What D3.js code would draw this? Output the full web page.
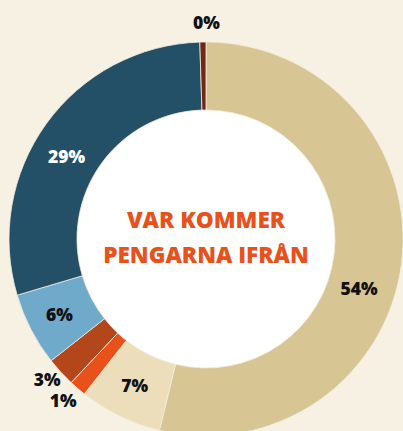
<!DOCTYPE html>
<html><head><meta charset="utf-8">
<script src="https://cdn.jsdelivr.net/npm/d3@7"></script>
<style>html,body{margin:0;padding:0;background:#f7f1e4;}svg{display:block;}</style>
</head><body>
<svg id="c" width="403" height="431"></svg>
<script>
// Data
const categories = ["A","B","C","D","E","F","G"];
const values = [53.8, 6.8, 1.4, 2.4, 6.0, 29.1, 0.5];
const labels = ["54%","7%","1%","3%","6%","29%","0%"];
const colors = ["#d8c594","#ecdeba","#e8521a","#b3461a","#70aacb","#235067","#6e2a10"];
const labelColors = ["#111","#111","#111","#111","#111","#fff","#111"];
// label anchor (polar, degrees clockwise from top, radius)
const labelAngle = [108, 206, 221.4, 228.4, 242.6, 300.5, 0.1];
const labelRadius = [161, 163, 216, 212.5, 165, 162, 216.5];
const title = ["VAR KOMMER","PENGARNA IFRÅN"];

const W=403,H=431,cx=206,cy=239,R=197,r=129;
const svg=d3.select("#c");
svg.append("rect").attr("width",W).attr("height",H).attr("fill","#f7f1e4");
const g=svg.append("g").attr("transform",`translate(${cx},${cy})`);
const pie=d3.pie().sort(null).value(d=>d);
const arcs=pie(values);
const arc=d3.arc().innerRadius(r).outerRadius(R);
g.append("circle").attr("r",r).attr("fill","#fff");
g.selectAll("path.s").data(arcs).join("path").attr("class","s")
 .attr("d",arc).attr("fill",(d,i)=>colors[i])
 .attr("stroke","#f4ecdc").attr("stroke-width",0.8);
const toRad=a=>a*Math.PI/180;
g.selectAll("text.l").data(labels).join("text").attr("class","l")
 .attr("x",(d,i)=>labelRadius[i]*Math.sin(toRad(labelAngle[i])))
 .attr("y",(d,i)=>-labelRadius[i]*Math.cos(toRad(labelAngle[i])))
 .attr("dy","0.36em").attr("text-anchor","middle")
 .attr("font-family","'Open Sans', Lato, sans-serif").attr("font-weight",800)
 .attr("font-size",17.5).attr("fill",(d,i)=>labelColors[i]).text(d=>d);
g.selectAll("text.t").data(title).join("text").attr("class","t")
 .attr("x",0).attr("y",(d,i)=>-19+i*35).attr("dy","0.36em").attr("text-anchor","middle")
 .attr("font-family","'Open Sans', Lato, sans-serif").attr("font-weight",800)
 .attr("font-size",22.6).attr("fill","#e8521a").text(d=>d);
</script>
</body></html>
